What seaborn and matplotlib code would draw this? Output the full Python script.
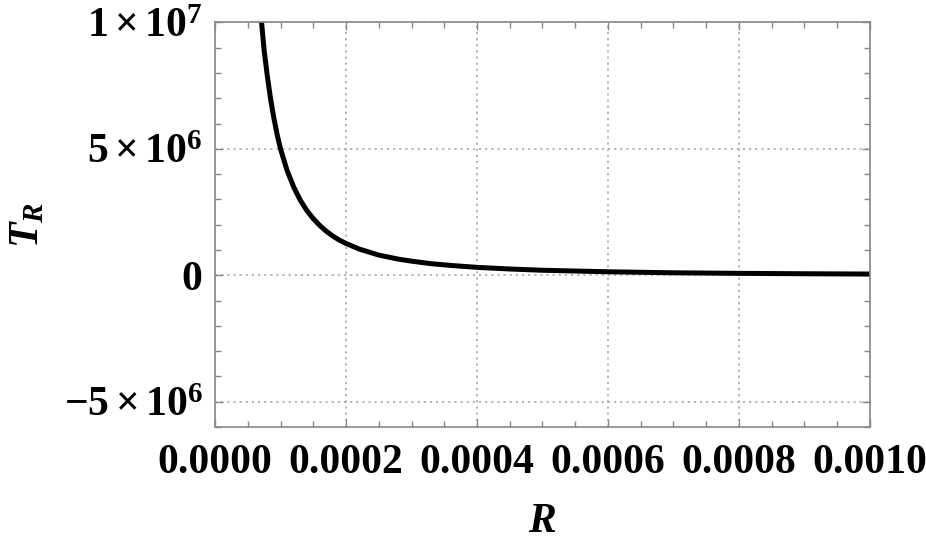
import numpy as np
import pandas as pd
import matplotlib
matplotlib.use("Agg")
import matplotlib.pyplot as plt
import seaborn as sns
from matplotlib.ticker import MultipleLocator, FuncFormatter

# values
R_vals = [0.00007, 0.000075, 0.00008, 0.000085, 0.00009, 0.000095, 0.0001,
          0.00011, 0.00012, 0.00013, 0.00014, 0.00015, 0.00016, 0.00017,
          0.00018, 0.00019, 0.0002, 0.00022, 0.00025, 0.00028, 0.0003,
          0.00033, 0.00036, 0.0004, 0.00045, 0.0005, 0.0006,
          0.0007, 0.0008, 0.0009, 0.001]
T_vals = [1.03e7, 8.9e6, 7.85e6, 6.95e6, 6.2e6, 5.55e6, 5.0e6,
          4.15e6, 3.5e6, 2.98e6, 2.57e6, 2.24e6, 1.97e6, 1.74e6,
          1.55e6, 1.39e6, 1.26e6, 1.04e6, 8.0e5, 6.4e5, 5.6e5,
          4.6e5, 3.9e5, 3.15e5, 2.5e5, 2.0e5, 1.4e5,
          1.0e5, 7.8e4, 6.2e4, 5.0e4]
y_ticks = [-5e6, 0, 5e6, 1e7]
y_labels = [r"$-5\times10^{6}$", "0", r"$5\times10^{6}$", r"$1\times10^{7}$"]

df = pd.DataFrame({"R": R_vals, "T": T_vals})

sns.set_theme(style="ticks")
plt.rcParams["font.family"] = ["Liberation Serif", "DejaVu Serif"]
plt.rcParams["font.weight"] = "bold"
plt.rcParams["mathtext.fontset"] = "custom"
plt.rcParams["mathtext.rm"] = "Liberation Serif:bold"
plt.rcParams["mathtext.it"] = "Liberation Serif:bold:italic"
plt.rcParams["mathtext.bf"] = "Liberation Serif:bold"
plt.rcParams["text.color"] = "black"
plt.rcParams["axes.labelcolor"] = "black"
plt.rcParams["xtick.labelcolor"] = "black"
plt.rcParams["ytick.labelcolor"] = "black"

fig = plt.figure(figsize=(9.26, 5.43), dpi=100)
ax = fig.add_axes([0.2322, 0.2136, 0.7073, 0.745])

sns.lineplot(data=df, x="R", y="T", color="black", linewidth=3.6, ax=ax)

ax.set_xlim(0, 0.001)
ax.set_ylim(-6e6, 1e7)
ax.xaxis.set_major_locator(MultipleLocator(0.0002))
ax.xaxis.set_minor_locator(MultipleLocator(0.00005))
ax.xaxis.set_major_formatter(FuncFormatter(lambda v, p: f"{v:.4f}"))
ax.set_yticks(y_ticks)
ax.set_yticklabels(y_labels)
ax.yaxis.set_minor_locator(MultipleLocator(1e6))

ax.grid(True, which="major", color="#b0b0b0", linestyle=(0, (1.2, 2.2)), linewidth=1.3)
for s in ax.spines.values():
    s.set_color("#888888")
    s.set_linewidth(1.2)
ax.tick_params(which="both", direction="in", top=True, right=True, color="#888888", width=1.0)
ax.tick_params(which="major", length=6)
ax.tick_params(which="minor", length=4.5)
ax.tick_params(axis="x", which="major", labelsize=30, pad=12)
ax.tick_params(axis="y", which="major", labelsize=30, pad=9)
for lab in ax.get_xticklabels() + ax.get_yticklabels():
    lab.set_fontweight("bold")

ax.set_xlabel(r"$R$", fontsize=30, labelpad=15)
ax.set_ylabel(r"$T_R$", fontsize=30, labelpad=12)

fig.savefig("out.png", dpi=100)
